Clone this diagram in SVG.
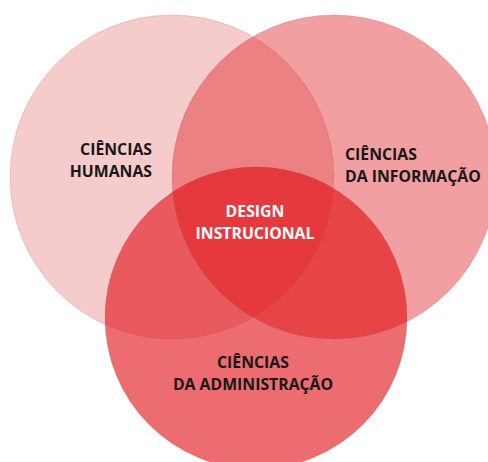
<svg xmlns="http://www.w3.org/2000/svg" width="488" height="462" viewBox="0 0 488 462">
<style>
.lbl{font-family:"Open Sans","Liberation Sans",sans-serif;font-weight:bold;font-size:15.8px;fill:#1a1718}
.w{fill:#ffffff}
.edge{fill:none;stroke:#b0474b;stroke-opacity:0.22;stroke-width:1}
</style>
<defs>
<clipPath id="cL"><circle cx="172" cy="177" r="162"/></clipPath>
<clipPath id="cR"><circle cx="334" cy="177" r="162"/></clipPath>
</defs>
<rect width="488" height="462" fill="#ffffff"/>
<g id="humanas">
<circle cx="172" cy="177" r="162" fill="#f6cbcc"/>
</g>
<g id="informacao">
<circle cx="334" cy="177" r="162" fill="#f29fa2"/>
<circle cx="334" cy="177" r="162" fill="#ec8184" clip-path="url(#cL)"/>
</g>
<g id="administracao">
<circle cx="256" cy="318" r="151" fill="#ec6c70"/>
<circle cx="256" cy="318" r="151" fill="#e85a5e" clip-path="url(#cL)"/>
<circle cx="256" cy="318" r="151" fill="#e74448" clip-path="url(#cR)"/>
<g clip-path="url(#cL)"><circle cx="256" cy="318" r="151" fill="#e6393e" clip-path="url(#cR)"/></g>
</g>
<g id="edges">
<circle class="edge" cx="172" cy="177" r="162"/>
<circle class="edge" cx="334" cy="177" r="162"/>
<circle class="edge" cx="256" cy="318" r="151"/>
</g>
<g id="t-humanas">
<text class="lbl" x="152" y="155" text-anchor="end">CIÊNCIAS</text>
<text class="lbl" x="152" y="177" text-anchor="end">HUMANAS</text>
</g>
<g id="t-informacao">
<text class="lbl" x="345" y="160">CIÊNCIAS</text>
<text class="lbl" x="345" y="182">DA INFORMAÇÃO</text>
</g>
<g id="t-design">
<text class="lbl w" x="255" y="217" text-anchor="middle">DESIGN</text>
<text class="lbl w" x="255" y="239" text-anchor="middle">INSTRUCIONAL</text>
</g>
<g id="t-administracao">
<text class="lbl" x="253" y="368" text-anchor="middle">CIÊNCIAS</text>
<text class="lbl" x="253" y="390" text-anchor="middle">DA ADMINISTRAÇÃO</text>
</g>
</svg>
